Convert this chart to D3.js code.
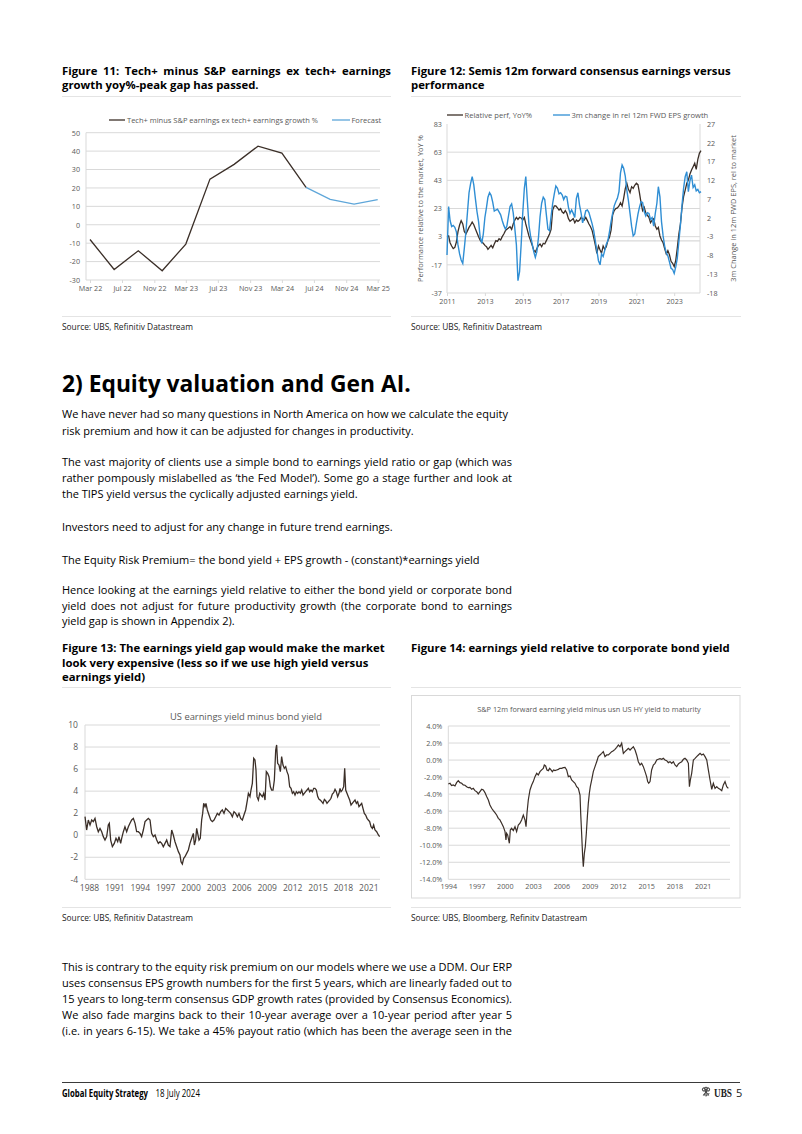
<!DOCTYPE html>
<html><head><meta charset="utf-8"><title>Global Equity Strategy - page 5</title>
<script src="https://cdn.jsdelivr.net/npm/d3@7/dist/d3.min.js"></script>
<style>html,body{margin:0;padding:0;background:#fff;overflow:hidden}svg{display:block}</style>
</head><body>
<script>
// ---------------- DATA ----------------
// Figure 11 (quarterly, %)
const f11Dates = ["2022-03","2022-06","2022-09","2022-12","2023-03","2023-06","2023-09","2023-12","2024-03","2024-06","2024-09","2024-12","2025-03"];
const f11Actual = [-8.0,-24.3,-14.1,-25.0,-10.5,24.8,32.8,42.7,38.9,20.3];
const f11Forecast = [20.3,13.8,11.2,13.6];          // Jun 24 .. Mar 25
const f11YTicks = [50,40,30,20,10,0,-10,-20,-30];
const f11XTicks = ["2022-03","2022-07","2022-11","2023-03","2023-07","2023-11","2024-03","2024-07","2024-11","2025-03"];
const f11Legend = ["Tech+ minus S&P earnings ex tech+ earnings growth %","Forecast"];

// Figure 12 (monthly from Jan 2011)
const f12Start = "2011-01";
const f12RelPerf = [3.0,3.5,-1.3,-3.6,-5.5,-4.6,-0.8,6.6,11.3,14.4,12.0,6.6,
4.9,7.3,9.6,11.3,13.4,11.5,8.7,5.8,3.0,0.6,-0.8,-1.7,
-3.2,-4.1,-6.0,-4.6,-3.2,-5.0,-2.2,0.2,-0.3,1.6,0.6,3.0,
4.9,7.3,8.2,9.2,10.1,8.2,12.0,14.8,16.7,15.3,16.7,16.3,
14.8,16.7,12.0,7.7,3.5,0.2,-2.9,-6.5,-7.9,-5.5,-3.2,-2.2,
-4.1,-1.7,-2.2,0.2,2.5,4.9,8.2,21.9,24.8,24.8,23.4,21.9,
22.9,20.5,19.6,21.5,19.6,15.8,13.9,14.8,15.8,12.9,14.8,13.9,
14.8,16.7,15.8,14.8,16.7,14.4,12.0,10.1,7.3,2.5,-2.9,-8.8,
-3.6,-6.5,-8.8,-3.6,-6.0,-4.1,0.2,2.5,7.7,18.4,21.5,22.9,
23.4,24.8,27.1,24.8,30.2,37.1,40.9,36.6,34.3,38.5,37.3,39.5,
40.9,39.9,34.3,27.1,21.5,23.8,20.0,18.2,16.7,12.9,14.8,15.8,
10.6,8.2,9.6,3.5,0.6,-1.3,-5.5,-9.3,-6.9,-9.8,-14.5,-15.9,
-18.3,-13.6,-5.3,4.9,12.0,23.8,31.4,36.1,40.9,43.2,47.5,50.3,
52.7,55.1,50.8,57.9,62.2,64.1];
const f12EpsChg = [-7.9,5.0,1.3,-0.3,0.0,-0.5,-1.7,-5.2,-7.6,-9.2,-10.1,-6.1,
-1.7,3.7,8.7,11.2,13.0,10.8,7.2,3.7,1.0,-3.0,-4.8,-2.3,
2.1,4.8,7.5,8.7,8.0,6.2,3.8,4.1,4.3,3.6,2.8,1.3,
0.0,-1.0,-0.2,2.5,5.0,5.7,3.4,-0.8,-5.2,-14.7,-12.3,-5.2,
3.2,9.9,13.0,6.3,0.1,-2.8,-4.8,-7.0,-8.5,-7.0,-3.2,2.3,
5.9,7.5,6.9,2.8,-1.0,-1.4,2.5,5.9,8.4,10.5,9.9,8.4,
8.7,8.1,6.9,7.8,7.6,4.8,3.2,4.1,3.2,2.1,7.2,8.7,
5.4,3.2,0.7,2.1,3.9,4.1,3.4,1.9,0.4,-1.4,-4.1,-6.7,
-9.4,-10.5,-7.6,-8.3,-6.7,-5.0,-4.1,-1.7,1.0,3.2,5.2,6.3,
7.2,9.0,14.0,16.1,15.2,13.1,9.4,6.6,3.2,-0.2,-2.8,-2.3,
0.5,3.0,4.8,6.3,6.1,3.7,2.5,3.4,3.2,1.6,2.1,-0.2,
3.2,5.9,10.3,7.6,1.0,-2.8,-5.5,-7.3,-8.1,-9.7,-11.4,-11.7,
-12.8,-11.0,-8.8,-4.3,0.1,5.4,9.9,13.0,14.3,9.0,11.9,13.4,
10.1,10.8,9.2,9.6,8.7,9.0];
const f12LeftTicks = [83,63,43,23,3,-17,-37];
const f12RightTicks = [27,22,17,12,7,2,-3,-8,-13,-18];
const f12XTicks = [2011,2013,2015,2017,2019,2021,2023];
const f12Legend = ["Relative perf, YoY%","3m change in rel 12m FWD EPS growth"];
const f12AxisTitles = ["Performance relative to the market, YoY %","3m Change in 12m FWD EPS, rel to market"];

// Figure 13 (decimal year, %)
const f13Years = [1987.53,1987.72,1987.92,1988.12,1988.32,1988.51,1988.71,1988.91,1989.10,1989.30,
1989.50,1989.69,1989.89,1990.09,1990.28,1990.40,1990.56,1990.76,1990.99,1991.19,
1991.39,1991.54,1991.74,1991.86,1992.06,1992.25,1992.45,1992.65,1992.84,1993.04,
1993.24,1993.44,1993.63,1993.83,1994.03,1994.22,1994.42,1994.62,1994.81,1995.01,
1995.21,1995.40,1995.60,1995.80,1996.00,1996.19,1996.39,1996.59,1996.78,1996.98,
1997.18,1997.37,1997.57,1997.77,1997.96,1998.16,1998.36,1998.56,1998.75,1998.87,
1999.03,1999.19,1999.34,1999.54,1999.74,1999.93,2000.13,2000.33,2000.45,2000.60,
2000.72,2000.84,2001.00,2001.15,2001.31,2001.43,2001.55,2001.71,2001.82,2001.98,
2002.18,2002.38,2002.57,2002.77,2002.97,2003.16,2003.36,2003.56,2003.75,2003.95,
2004.15,2004.35,2004.54,2004.74,2004.94,2005.13,2005.33,2005.53,2005.72,2005.92,
2006.12,2006.31,2006.51,2006.71,2006.83,2007.02,2007.14,2007.30,2007.46,2007.61,
2007.73,2007.85,2008.01,2008.17,2008.32,2008.48,2008.64,2008.80,2008.95,2009.11,
2009.27,2009.43,2009.58,2009.74,2009.90,2010.06,2010.17,2010.29,2010.45,2010.61,
2010.76,2010.92,2011.08,2011.24,2011.39,2011.55,2011.71,2011.87,2012.03,2012.18,
2012.34,2012.50,2012.66,2012.81,2012.97,2013.13,2013.29,2013.44,2013.60,2013.76,
2013.92,2014.07,2014.23,2014.39,2014.55,2014.70,2014.86,2015.02,2015.18,2015.33,
2015.49,2015.65,2015.81,2015.96,2016.12,2016.28,2016.44,2016.59,2016.75,2016.91,
2017.07,2017.22,2017.38,2017.54,2017.66,2017.78,2017.93,2018.09,2018.21,2018.33,
2018.48,2018.64,2018.80,2018.96,2019.11,2019.27,2019.43,2019.59,2019.74,2019.90,
2020.06,2020.22,2020.37,2020.53,2020.69,2020.85,2021.00,2021.16,2021.32,2021.48,
2021.63,2021.79,2021.99,2022.19,2022.34];
const f13Values = [1.68,0.47,1.38,0.93,1.38,1.23,1.53,0.77,0.32,0.62,
0.32,-0.13,-0.44,-0.13,0.93,1.08,-0.44,-1.04,-0.74,-0.28,
-0.59,-0.13,-0.74,-0.28,0.32,0.77,0.32,0.77,1.08,1.38,
1.53,1.08,0.32,0.32,0.17,-0.13,0.47,1.23,1.38,1.53,
1.38,0.17,-0.13,0.02,-0.44,-0.74,-0.59,-0.74,-1.04,-0.74,
-0.44,-0.89,-1.04,0.47,0.02,-0.59,-1.04,-1.49,-1.80,-2.40,
-2.61,-2.10,-1.95,-1.65,-1.34,-0.74,-0.28,0.17,-0.89,-0.44,
0.62,0.17,-0.44,-0.28,1.38,1.98,2.89,2.59,2.89,2.29,
1.83,1.38,1.23,1.38,1.68,1.98,1.83,2.14,2.29,1.98,
2.44,2.29,2.14,1.98,1.68,2.14,1.98,1.68,1.98,1.53,
1.38,1.83,2.29,3.19,3.80,3.50,4.10,4.71,6.98,6.82,
5.92,3.50,3.19,3.80,3.65,3.50,3.80,3.19,5.77,5.61,
5.31,4.40,4.10,4.10,5.01,7.73,8.19,6.52,6.37,5.77,
7.13,6.37,6.07,6.22,5.77,5.46,4.40,4.25,3.80,3.95,
3.65,3.95,3.80,3.95,3.80,4.10,3.65,3.80,3.95,4.10,
4.25,3.95,4.10,3.95,4.25,4.25,4.10,3.50,3.25,3.19,
3.04,2.89,3.25,3.13,2.89,3.04,3.19,3.35,3.74,3.86,
4.16,3.95,3.50,3.80,4.25,3.95,4.10,4.40,6.07,4.10,
3.80,3.50,3.19,2.74,2.89,3.04,3.19,2.89,3.04,2.59,
2.74,2.89,2.44,1.98,1.83,1.53,1.38,1.23,0.77,0.62,
0.93,0.47,0.32,0.02,-0.13];
const f13YTicks = [10,8,6,4,2,0,-2,-4];
const f13XTicks = [1988,1991,1994,1997,2000,2003,2006,2009,2012,2015,2018,2021];
const f13ChartTitle = "US earnings yield minus bond yield";

// Figure 14 (decimal year, %)
const f14Years = [1994.00,1994.18,1994.35,1994.53,1994.71,1994.88,1995.06,1995.24,1995.42,1995.59,
1995.77,1995.95,1996.12,1996.30,1996.48,1996.65,1996.83,1997.01,1997.18,1997.36,
1997.54,1997.72,1997.89,1998.07,1998.25,1998.42,1998.60,1998.78,1998.95,1999.13,
1999.31,1999.48,1999.66,1999.84,2000.02,2000.12,2000.19,2000.30,2000.37,2000.48,
2000.58,2000.72,2000.90,2001.08,2001.25,2001.43,2001.61,2001.78,2001.96,2002.14,
2002.25,2002.35,2002.49,2002.67,2002.85,2003.02,2003.20,2003.38,2003.55,2003.73,
2003.91,2004.08,2004.19,2004.33,2004.47,2004.62,2004.76,2004.90,2005.04,2005.18,
2005.32,2005.50,2005.68,2005.85,2006.03,2006.21,2006.39,2006.56,2006.74,2006.92,
2007.09,2007.27,2007.45,2007.62,2007.80,2007.98,2008.05,2008.15,2008.26,2008.33,
2008.44,2008.54,2008.65,2008.76,2008.86,2008.97,2009.07,2009.22,2009.39,2009.57,
2009.75,2009.92,2010.10,2010.28,2010.45,2010.63,2010.81,2010.99,2011.16,2011.34,
2011.52,2011.69,2011.87,2012.05,2012.22,2012.40,2012.58,2012.75,2012.93,2013.11,
2013.29,2013.46,2013.64,2013.82,2013.99,2014.17,2014.35,2014.52,2014.70,2014.88,
2015.05,2015.16,2015.27,2015.41,2015.58,2015.76,2015.94,2016.12,2016.29,2016.47,
2016.65,2016.82,2017.00,2017.18,2017.35,2017.53,2017.71,2017.89,2018.06,2018.24,
2018.42,2018.59,2018.77,2018.95,2019.12,2019.30,2019.48,2019.59,2019.69,2019.83,
2020.01,2020.19,2020.36,2020.54,2020.72,2020.89,2021.07,2021.25,2021.43,2021.60,
2021.78,2021.96,2022.13,2022.31,2022.49,2022.66,2022.84,2023.02,2023.19,2023.37,
2023.55,2023.72];
const f14Values = [-2.81,-2.73,-3.00,-2.92,-3.04,-2.65,-2.42,-2.65,-2.73,-2.92,
-2.96,-3.12,-3.24,-3.20,-3.43,-3.32,-3.59,-3.71,-3.98,-3.71,
-3.43,-3.51,-3.82,-4.29,-4.69,-5.27,-5.66,-5.94,-6.17,-6.45,
-6.84,-7.03,-7.42,-7.82,-8.40,-9.38,-8.60,-8.79,-9.18,-9.77,
-8.21,-8.01,-8.28,-7.82,-8.40,-7.62,-7.42,-7.03,-6.45,-7.03,
-7.82,-6.25,-4.69,-3.51,-2.92,-2.53,-1.95,-1.56,-1.75,-1.36,
-1.16,-0.97,-0.58,-0.69,-1.16,-1.24,-0.97,-1.16,-1.36,-1.16,
-1.24,-1.16,-1.09,-0.97,-0.97,-0.89,-0.85,-1.16,-1.95,-1.87,
-2.34,-2.53,-2.73,-3.12,-3.32,-4.10,-6.25,-8.60,-11.34,-12.51,
-10.95,-10.16,-8.60,-6.64,-5.08,-3.90,-3.12,-2.34,-1.36,-0.77,
-0.19,0.40,0.60,0.79,0.99,0.40,0.60,0.60,0.79,0.99,
1.10,1.26,1.50,1.77,1.57,1.97,0.79,0.99,1.18,1.38,
1.18,1.38,1.57,1.18,0.60,-0.19,-0.58,-0.38,-0.77,-1.36,
-1.95,-2.53,-2.73,-2.53,-1.16,-0.58,-0.38,0.01,0.09,0.17,
0.09,0.20,0.01,-0.07,-0.30,-0.19,-0.38,-0.19,-0.58,-0.77,
-0.46,-0.30,-0.19,0.09,0.20,0.01,-0.38,-3.12,-2.34,-1.56,
0.01,0.20,0.40,0.60,0.79,0.60,0.71,0.40,0.01,-1.16,
-2.34,-3.43,-2.73,-3.32,-3.12,-3.32,-3.43,-3.59,-2.92,-2.53,
-3.12,-3.32];
const f14YTicks = [4,2,0,-2,-4,-6,-8,-10,-12,-14];
const f14XTicks = [1994,1997,2000,2003,2006,2009,2012,2015,2018,2021];
const f14ChartTitle = "S&P 12m forward earning yield minus usn US HY yield to maturity";

// Page text
const figTitles = {
  f11: ["Figure 11: Tech+ minus S&P earnings ex tech+ earnings","growth yoy%-peak gap has passed."],
  f12: ["Figure 12: Semis 12m forward consensus earnings versus","performance"],
  f13: ["Figure 13: The earnings yield gap would make the market","look very expensive (less so if we use high yield versus","earnings yield)"],
  f14: ["Figure 14: earnings yield relative to corporate bond yield"]
};
const sources = ["Source: UBS, Refinitiv Datastream","Source: UBS, Refinitiv Datastream","Source: UBS, Refinitiv Datastream","Source: UBS, Bloomberg, Refinitv Datastream"];
const heading = "2) Equity valuation and Gen AI.";
const paragraphs = [
  ["We have never had so many questions in North America on how we calculate the equity","risk premium and how it can be adjusted for changes in productivity."],
  ["The vast majority of clients use a simple bond to earnings yield ratio or gap (which was","rather pompously mislabelled as \u2018the Fed Model\u2019). Some go a stage further and look at","the TIPS yield versus the cyclically adjusted earnings yield."],
  ["Investors need to adjust for any change in future trend earnings."],
  ["The Equity Risk Premium= the bond yield + EPS growth - (constant)*earnings yield"],
  ["Hence looking at the earnings yield relative to either the bond yield or corporate bond","yield does not adjust for future productivity growth (the corporate bond to earnings","yield gap is shown in Appendix 2)."],
  ["This is contrary to the equity risk premium on our models where we use a DDM. Our ERP","uses consensus EPS growth numbers for the first 5 years, which are linearly faded out to","15 years to long-term consensus GDP growth rates (provided by Consensus Economics).","We also fade margins back to their 10-year average over a 10-year period after year 5","(i.e. in years 6-15). We take a 45% payout ratio (which has been the average seen in the"]
];
const footer = {left:"Global Equity Strategy", date:"18 July 2024", brand:"UBS", page:"5"};

// ---------------- DRAWING ----------------
const svg = d3.select("body").append("svg").attr("width",802).attr("height",1134);
svg.append("rect").attr("width",802).attr("height",1134).attr("fill","#fff");
const SANS = "'Open Sans','Noto Sans','DejaVu Sans',sans-serif";
const GRID = "#d9d9d9", SEP = "#e4e4e4", AX = "#595959";
const DARK = "#3b2f28", BLUE = "#2f8ed4", FBLUE = "#5ea6d9";

function measure(str,size,weight,family){
  const t = svg.append("text").attr("font-family",family||SANS).attr("font-size",size).attr("font-weight",weight||400).text(str);
  const w = t.node().getComputedTextLength(); t.remove(); return w;
}
function fit(str,width,weight,family){ return 100*width/measure(str,100,weight,family); }
function txt(parent,str,x,y,o){
  o = o||{};
  const t = parent.append("text").attr("x",x).attr("y",y)
    .attr("font-family",o.family||SANS).attr("font-size",o.size||10)
    .attr("font-weight",o.weight||400).attr("fill",o.fill||"#000")
    .attr("text-anchor",o.anchor||"start").text(str);
  if (o.justify){
    const w = t.node().getComputedTextLength();
    const n = (str.match(/ /g)||[]).length;
    if (n>0) t.style("word-spacing",((o.justify-w)/n).toFixed(3)+"px");
  }
  if (o.rotate!=null) t.attr("transform",`rotate(${o.rotate},${x},${y})`);
  return t;
}
// narrow text: fit width by font-size, then stretch vertically to a target size
function narrow(parent,str,x,y,width,size,o){
  o = o||{};
  const fs = fit(str,width,o.weight,o.family);
  const k = size/fs;
  const g = parent.append("g").attr("transform",`translate(${x},${y}) scale(1,${k.toFixed(3)})`);
  return txt(g,str,0,0,Object.assign({},o,{size:fs}));
}
function hline(p,x1,x2,y,c,w){ p.append("line").attr("x1",x1).attr("x2",x2).attr("y1",y).attr("y2",y).attr("stroke",c).attr("stroke-width",w||1); }
function vline(p,x,y1,y2,c,w){ p.append("line").attr("x1",x).attr("x2",x).attr("y1",y1).attr("y2",y2).attr("stroke",c).attr("stroke-width",w||1); }
function styleAxis(g,size){
  g.select(".domain").remove();
  g.attr("font-family",SANS).attr("font-size",size);
  g.selectAll(".tick text").attr("fill",AX);
  g.selectAll(".tick line").attr("stroke",GRID);
}

// ---- page text ----
const TS = fit(figTitles.f14[0],319,700);
const BS = fit(paragraphs[3][0],418,400);
const SS = fit(sources[0],131,400);

txt(svg,figTitles.f11[0],62,75,{size:TS,weight:700,justify:329});
txt(svg,figTitles.f11[1],62,89,{size:TS,weight:700});
txt(svg,figTitles.f12[0],411,75,{size:TS,weight:700});
txt(svg,figTitles.f12[1],411,89,{size:TS,weight:700});
hline(svg,62,391,96.5,SEP); hline(svg,411,741,96.5,SEP);
hline(svg,62,391,316.5,SEP); hline(svg,411,741,316.5,SEP);
txt(svg,sources[0],62,330,{size:SS,fill:"#1a1a1a"});
txt(svg,sources[1],411,330,{size:SS,fill:"#1a1a1a"});

txt(svg,heading,62,391.5,{size:fit(heading,349,700),weight:700});

const paraLines = [[418,434.5],[466,482,498],[530.5],[564],[594,609.5,625],[970.5,986.5,1002.5,1018.5,1034.5]];
paragraphs.forEach((p,i)=>{
  p.forEach((line,j)=>{
    const last = j===p.length-1 && i!==5;
    txt(svg,line,62,paraLines[i][j],{size:BS,justify: last?null:(i===0&&j===0?446:450)});
  });
});

figTitles.f13.forEach((l,i)=>txt(svg,l,62,652+i*14.5,{size:TS,weight:700}));
txt(svg,figTitles.f14[0],411,652,{size:TS,weight:700});
hline(svg,62,391,687.5,SEP); hline(svg,411,741,687.5,SEP);
hline(svg,62,391,907.5,SEP); hline(svg,411,741,907.5,SEP);
txt(svg,sources[2],62,921,{size:SS,fill:"#1a1a1a"});
txt(svg,sources[3],411,921,{size:SS,fill:"#1a1a1a"});

// footer
hline(svg,62,740,1082.5,"#3a3a3a",1);
narrow(svg,footer.left,62,1097,86,11,{weight:700});
narrow(svg,footer.date,155.5,1097,44.5,11,{});
narrow(svg,footer.brand,714,1097,18,11.5,{weight:700,family:"'Liberation Serif','DejaVu Serif',serif",fill:"#222"});
txt(svg,footer.page,736,1097,{size:11,fill:"#222"});
// UBS keys emblem
const keys = svg.append("g").attr("transform","translate(706,1092)").attr("stroke","#444").attr("fill","none").attr("stroke-width",1);
[-40,0,40].forEach(a=>{
  const k = keys.append("g").attr("transform",`rotate(${a})`);
  k.append("circle").attr("cx",0).attr("cy",-3.3).attr("r",1.5);
  k.append("line").attr("x1",0).attr("x2",0).attr("y1",-1.8).attr("y2",4.5);
  k.append("line").attr("x1",0).attr("x2",1.6).attr("y1",3.2).attr("y2",3.2);
});

// ---- Figure 11 ----
{
  const g = svg.append("g");
  const parse = d3.timeParse("%Y-%m");
  const x = d3.scaleTime().domain([parse("2022-03"),parse("2025-03")]).range([90,377.7]);
  const y = d3.scaleLinear().domain([-30,50]).range([280,132.7]);
  const fs = fit("Mar 22",23.5);
  f11YTicks.forEach(v=>hline(g,86,380,y(v),GRID));
  vline(g,86,y(50),y(-30),GRID);
  g.append("g").attr("transform","translate(86,0)")
    .call(d3.axisLeft(y).tickValues(f11YTicks).tickSize(0).tickPadding(6).tickFormat(d=>String(d)))
    .call(s=>styleAxis(s,fs));
  g.append("g").attr("transform",`translate(0,${y(-30)})`)
    .call(d3.axisBottom(x).tickValues(f11XTicks.map(parse)).tickSize(3).tickPadding(3).tickFormat(d3.timeFormat("%b %y")))
    .call(s=>styleAxis(s,fs));
  const actual = f11Actual.map((v,i)=>({d:parse(f11Dates[i]),v}));
  const fc = f11Forecast.map((v,i)=>({d:parse(f11Dates[i+f11Actual.length-1]),v}));
  const line = d3.line().x(p=>x(p.d)).y(p=>y(p.v));
  g.append("path").datum(fc).attr("d",line).attr("fill","none").attr("stroke",FBLUE).attr("stroke-width",1.3);
  g.append("path").datum(actual).attr("d",line).attr("fill","none").attr("stroke",DARK).attr("stroke-width",1.3);
  const lfs = fit(f11Legend[0],191);
  hline(g,109,125,120,DARK,1.3);
  txt(g,f11Legend[0],127,122.8,{size:lfs,fill:AX});
  hline(g,332,350,120,FBLUE,1.3);
  txt(g,f11Legend[1],351.5,122.8,{size:lfs,fill:AX});
}

// ---- Figure 12 ----
{
  const g = svg.append("g");
  const start = d3.timeParse("%Y-%m")(f12Start);
  const x = d3.scaleTime().domain([new Date(2011,0,1),new Date(2024,5,1)]).range([447,701]);
  const yL = d3.scaleLinear().domain([-37,83]).range([293,124]);
  const yR = d3.scaleLinear().domain([-18,27]).range([293,124]);
  const fs = fit("2011",16.5);
  f12LeftTicks.slice(1).forEach(v=>hline(g,447,700,yL(v),GRID));
  hline(g,447,700,yL(0),"#cfcfcf");
  vline(g,447,yL(83),yL(-37),GRID);
  vline(g,700,yL(83),yL(-37),GRID);
  g.append("g").attr("transform","translate(447,0)")
    .call(d3.axisLeft(yL).tickValues(f12LeftTicks).tickSize(0).tickPadding(5).tickFormat(d=>String(d)))
    .call(s=>styleAxis(s,fs));
  g.append("g").attr("transform","translate(700,0)")
    .call(d3.axisRight(yR).tickValues(f12RightTicks).tickSize(0).tickPadding(7).tickFormat(d=>String(d)))
    .call(s=>styleAxis(s,fs));
  g.append("g").attr("transform",`translate(0,${yL(-37)})`)
    .call(d3.axisBottom(x).tickValues(f12XTicks.map(yr=>new Date(yr,0,1))).tickSize(3).tickPadding(3).tickFormat(d3.timeFormat("%Y")))
    .call(s=>styleAxis(s,fs));
  const blue = f12EpsChg.map((v,i)=>({d:d3.timeMonth.offset(start,i),v}));
  const dark = f12RelPerf.map((v,i)=>({d:d3.timeMonth.offset(start,i),v}));
  g.append("path").datum(dark).attr("d",d3.line().x(p=>x(p.d)).y(p=>yL(p.v)))
    .attr("fill","none").attr("stroke",DARK).attr("stroke-width",1.3);
  g.append("path").datum(blue).attr("d",d3.line().x(p=>x(p.d)).y(p=>yR(p.v)))
    .attr("fill","none").attr("stroke",BLUE).attr("stroke-width",1.4);
  const lfs = fit(f12Legend[1],137);
  hline(g,447,463,115,DARK,1.3);
  txt(g,f12Legend[0],464.5,117.8,{size:lfs,fill:AX});
  hline(g,553,570,115,BLUE,1.3);
  txt(g,f12Legend[1],571.5,117.8,{size:lfs,fill:AX});
  const tfs = fit(f12AxisTitles[0],147);
  txt(g,f12AxisTitles[0],423,208.5,{size:tfs,fill:AX,anchor:"middle",rotate:-90});
  txt(g,f12AxisTitles[1],736,208.5,{size:tfs,fill:AX,anchor:"middle",rotate:-90});
}

// ---- Figure 13 ----
{
  const g = svg.append("g");
  const x = d3.scaleLinear().domain([1988,2021]).range([89,368.3]);
  const y = d3.scaleLinear().domain([-4,10]).range([879.3,725]);
  const fs = fit("1988",19.5);
  f13YTicks.forEach(v=>hline(g,85,380,y(v),GRID));
  vline(g,85,y(10),y(-4),GRID);
  g.append("g").attr("transform","translate(85,0)")
    .call(d3.axisLeft(y).tickValues(f13YTicks).tickSize(0).tickPadding(7).tickFormat(d=>String(d)))
    .call(s=>styleAxis(s,fs));
  g.append("g").attr("transform",`translate(0,${y(-4)})`)
    .call(d3.axisBottom(x).tickValues(f13XTicks).tickSize(0).tickPadding(6).tickFormat(d=>String(d)))
    .call(s=>styleAxis(s,fs));
  const pts = f13Values.map((v,i)=>({t:f13Years[i],v}));
  g.append("path").datum(pts).attr("d",d3.line().x(p=>x(p.t)).y(p=>y(p.v)))
    .attr("fill","none").attr("stroke",DARK).attr("stroke-width",1.3);
  txt(g,f13ChartTitle,246,719.5,{size:fit(f13ChartTitle,152),fill:AX,anchor:"middle"});
}

// ---- Figure 14 ----
{
  const g = svg.append("g");
  g.append("rect").attr("x",411.5).attr("y",695.5).attr("width",328.5).attr("height",202.5)
    .attr("fill","none").attr("stroke",GRID);
  const x = d3.scaleLinear().domain([1994,2021]).range([448.3,702.7]);
  const y = d3.scaleLinear().domain([-14,4]).range([879.3,726]);
  const fs = fit("1994",16.5);
  f14YTicks.forEach(v=>hline(g,448.3,730,y(v),GRID));
  vline(g,448.3,y(4),y(-14),GRID);
  g.append("g").attr("transform","translate(448.3,0)")
    .call(d3.axisLeft(y).tickValues(f14YTicks).tickSize(0).tickPadding(6).tickFormat(d=>d.toFixed(1)+"%"))
    .call(s=>styleAxis(s,fs));
  g.append("g").attr("transform",`translate(0,${y(-14)})`)
    .call(d3.axisBottom(x).tickValues(f14XTicks).tickSize(0).tickPadding(5).tickFormat(d=>String(d)))
    .call(s=>styleAxis(s,fs));
  const pts = f14Values.map((v,i)=>({t:f14Years[i],v}));
  g.append("path").datum(pts).attr("d",d3.line().x(p=>x(p.t)).y(p=>y(p.v)))
    .attr("fill","none").attr("stroke",DARK).attr("stroke-width",1.2);
  txt(g,f14ChartTitle,589,711.5,{size:fit(f14ChartTitle,224),fill:AX,anchor:"middle"});
}
</script>
</body></html>
